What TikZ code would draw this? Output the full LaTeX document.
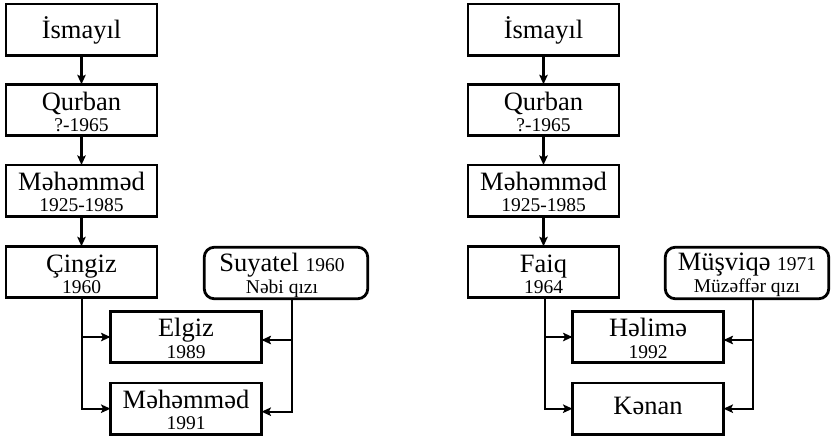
\documentclass[tikz,border=0pt]{standalone}
\usepackage{fontspec}
\setmainfont{Liberation Serif}
\usetikzlibrary{arrows.meta}
\newcommand\dtsize{\fontsize{19.5}{22}\selectfont}
\begin{document}
\begin{tikzpicture}[x=1pt,y=-1pt,
  box/.style={draw, line width=2.8pt, minimum width=151pt, minimum height=51.5pt, inner sep=0pt, outer sep=0pt},
  rbox/.style={box, rounded corners=10pt, minimum width=163.5pt},
  nm/.style={font=\fontsize{26.5}{30}\selectfont, inner sep=0pt, anchor=base},
  dt/.style={font=\dtsize, inner sep=0pt, anchor=base},
  conn/.style={line width=2.2pt, -{Stealth[length=9.5pt,width=8.5pt,inset=2pt]}}]
\useasboundingbox (0,0) rectangle (832,439);
% ---------- left tree ----------
\node[box] (is1) at (81.5,29.7) {};
\node[nm] (is1n) at ([yshift=-8.5pt]is1.center) {İsmayıl};
\node[box] (qu1) at (81.5,110) {};
\node[nm] (qu1n) at ([yshift=-26pt]qu1.north) {Qurban};
\node[dt] (qu1d) at ([yshift=-47pt]qu1.north) {?-1965};
\node[box] (me1) at (81.5,190.7) {};
\node[nm] (me1n) at ([yshift=-26pt]me1.north) {Məhəmməd};
\node[dt] (me1d) at ([yshift=-47pt]me1.north) {1925-1985};
\node[box] (ci1) at (81.5,272) {};
\node[nm] (ci1n) at ([yshift=-26pt]ci1.north) {Çingiz};
\node[dt] (ci1d) at ([yshift=-47pt]ci1.north) {1960};
\node[rbox] (su1) at (286,273) {};
\node[nm] (su1n) at ([xshift=-4pt,yshift=-24.5pt]su1.north) {Suyatel {\dtsize 1960}};
\node[dt] (su1d) at ([xshift=-4pt,yshift=-46pt]su1.north) {Nəbi qızı};
\node[box] (el1) at (186,337) {};
\node[nm] (el1n) at ([yshift=-25.5pt]el1.north) {Elgiz};
\node[dt] (el1d) at ([yshift=-47pt]el1.north) {1989};
\node[box] (mm1) at (186,408.7) {};
\node[nm] (mm1n) at ([yshift=-26pt]mm1.north) {Məhəmməd};
\node[dt] (mm1d) at ([yshift=-47pt]mm1.north) {1991};
\draw[conn] (is1) -- (qu1);
\draw[conn] (qu1) -- (me1);
\draw[conn] (me1) -- (ci1);
\coordinate (c1) at ([xshift=0.5pt]ci1.south);
\draw[conn] (c1) |- (el1.west);
\draw[conn] (c1) |- (mm1.west);
\coordinate (s1) at ([xshift=6pt]su1.south);
\draw[conn] (s1) |- ([yshift=-3pt]el1.east);
\draw[conn] (s1) |- ([yshift=-3pt]mm1.east);
% ---------- right tree ----------
\node[box] (is2) at (543.5,29.7) {};
\node[nm] (is2n) at ([yshift=-8.5pt]is2.center) {İsmayıl};
\node[box] (qu2) at (543.5,110) {};
\node[nm] (qu2n) at ([yshift=-26pt]qu2.north) {Qurban};
\node[dt] (qu2d) at ([yshift=-47pt]qu2.north) {?-1965};
\node[box] (me2) at (543.5,190.7) {};
\node[nm] (me2n) at ([yshift=-26pt]me2.north) {Məhəmməd};
\node[dt] (me2d) at ([yshift=-47pt]me2.north) {1925-1985};
\node[box] (fa2) at (543.5,272) {};
\node[nm] (fa2n) at ([yshift=-26pt]fa2.north) {Faiq};
\node[dt] (fa2d) at ([yshift=-47pt]fa2.north) {1964};
\node[rbox] (mu2) at (747,273) {};
\node[nm] (mu2n) at ([yshift=-23.5pt]mu2.north) {Müşviqə {\dtsize 1971}};
\node[dt] (mu2d) at ([yshift=-45.5pt]mu2.north) {Müzəffər qızı};
\node[box] (he2) at (648,337) {};
\node[nm] (he2n) at ([yshift=-25.5pt]he2.north) {Həlimə};
\node[dt] (he2d) at ([yshift=-47pt]he2.north) {1992};
\node[box] (ke2) at (648,408.7) {};
\node[nm] (ke2n) at ([yshift=-6pt]ke2.center) {Kənan};
\draw[conn] (is2) -- (qu2);
\draw[conn] (qu2) -- (me2);
\draw[conn] (me2) -- (fa2);
\coordinate (c2) at ([xshift=1.5pt]fa2.south);
\draw[conn] (c2) |- (he2.west);
\draw[conn] (c2) |- (ke2.west);
\coordinate (s2) at ([xshift=6pt]mu2.south);
\draw[conn] (s2) |- ([yshift=-3pt]he2.east);
\draw[conn] (s2) |- (ke2.east);
\end{tikzpicture}
\end{document}
